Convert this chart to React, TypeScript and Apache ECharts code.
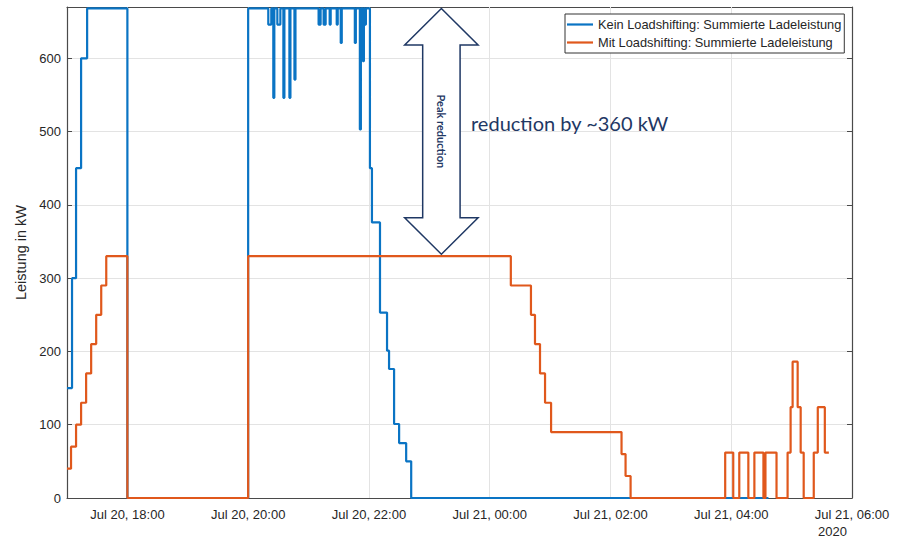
import React, { useEffect, useRef } from 'react';
import * as echarts from 'echarts';

// ---- data ----
const seriesNames = [
  'Kein Loadshifting: Summierte Ladeleistung',
  'Mit Loadshifting: Summierte Ladeleistung',
];

const blueTime = [
  '2020-07-20 17:00', '2020-07-20 17:05', '2020-07-20 17:09', '2020-07-20 17:14', '2020-07-20 17:20',
  '2020-07-20 18:00', '2020-07-20 20:00',
  '2020-07-20 20:20', '2020-07-20 20:23', '2020-07-20 20:25', '2020-07-20 20:26',
  '2020-07-20 20:29', '2020-07-20 20:32', '2020-07-20 20:35', '2020-07-20 20:36',
  '2020-07-20 20:41', '2020-07-20 20:42', '2020-07-20 20:46', '2020-07-20 20:47',
  '2020-07-20 21:10', '2020-07-20 21:12', '2020-07-20 21:15', '2020-07-20 21:17',
  '2020-07-20 21:21', '2020-07-20 21:22', '2020-07-20 21:28', '2020-07-20 21:29',
  '2020-07-20 21:32', '2020-07-20 21:33', '2020-07-20 21:46', '2020-07-20 21:47',
  '2020-07-20 21:51', '2020-07-20 21:52', '2020-07-20 21:54', '2020-07-20 21:55',
  '2020-07-20 21:56', '2020-07-20 21:57',
  '2020-07-20 22:01', '2020-07-20 22:03', '2020-07-20 22:11', '2020-07-20 22:18',
  '2020-07-20 22:20', '2020-07-20 22:25', '2020-07-20 22:30', '2020-07-20 22:37',
  '2020-07-20 22:42', '2020-07-21 04:37',
];
const blueKW = [
  150, 300, 450, 600, 668,
  0, 668,
  646, 668, 546, 668,
  646, 668, 546, 668,
  546, 668, 571, 668,
  646, 668, 646, 668,
  646, 668, 646, 668,
  621, 668, 621, 668,
  503, 668, 596, 668,
  646, 668,
  450, 376, 253, 201,
  176, 101, 75, 50,
  0, 0,
];

const orangeTime = [
  '2020-07-20 17:00', '2020-07-20 17:04', '2020-07-20 17:09', '2020-07-20 17:14', '2020-07-20 17:19',
  '2020-07-20 17:24', '2020-07-20 17:29', '2020-07-20 17:34', '2020-07-20 17:39', '2020-07-20 18:00',
  '2020-07-20 20:00', '2020-07-21 00:21', '2020-07-21 00:41', '2020-07-21 00:45', '2020-07-21 00:50',
  '2020-07-21 00:55', '2020-07-21 01:01', '2020-07-21 02:11', '2020-07-21 02:15', '2020-07-21 02:20',
  '2020-07-21 03:54', '2020-07-21 04:02', '2020-07-21 04:08', '2020-07-21 04:17',
  '2020-07-21 04:23', '2020-07-21 04:32', '2020-07-21 04:34', '2020-07-21 04:45',
  '2020-07-21 04:56', '2020-07-21 04:59', '2020-07-21 05:01', '2020-07-21 05:06',
  '2020-07-21 05:09', '2020-07-21 05:12', '2020-07-21 05:22', '2020-07-21 05:26',
  '2020-07-21 05:33', '2020-07-21 05:37',
];
const orangeKW = [
  40, 70, 100, 130, 170,
  210, 250, 290, 330, 0,
  330, 290, 250, 210, 170,
  130, 90, 60, 30, 0,
  62, 0, 62, 0,
  62, 0, 62, 0,
  62, 124, 186, 124,
  62, 0, 62, 124,
  62, 62,
];

const xTickTimes = [
  '2020-07-20 18:00', '2020-07-20 20:00', '2020-07-20 22:00', '2020-07-21 00:00',
  '2020-07-21 02:00', '2020-07-21 04:00', '2020-07-21 06:00',
];
const axisStart = '2020-07-20 17:00';
const axisEnd = '2020-07-21 06:00';
const yMax = 670;
const yInterval = 100;
const yearLabel = '2020';
const yAxisName = 'Leistung in kW';
const annotationTime = '2020-07-20 23:12';
const peakWithout = 668;
const peakWith = 330;
const arrowLabel = 'Peak reduction';
const reductionText = 'reduction by ~360 kW';
const monthNames = ['Jan', 'Feb', 'Mar', 'Apr', 'May', 'Jun', 'Jul', 'Aug', 'Sep', 'Oct', 'Nov', 'Dec'];

// ---- helpers ----
function parseT(s: string): number {
  const [d, t] = s.split(' ');
  const [y, m, dd] = d.split('-').map(Number);
  const [h, mi] = t.split(':').map(Number);
  return new Date(y, m - 1, dd, h, mi).getTime();
}
const pad = (n: number) => (n < 10 ? '0' + n : '' + n);
function fmtTick(v: number): string {
  const d = new Date(v);
  return `${monthNames[d.getMonth()]} ${d.getDate()}, ${pad(d.getHours())}:${pad(d.getMinutes())}`;
}

const FONT = '"Liberation Sans", Arial, sans-serif';
const AXIS_COLOR = '#4a4a4a';
const TEXT_COLOR = '#262626';
const GRID_COLOR = '#e3e3e3';
const NAVY = '#1f3864';
const BLUE = '#0a74c4';
const ORANGE = '#e0581c';

export default function App() {
  const ref = useRef<HTMLDivElement>(null);

  useEffect(() => {
    if (!ref.current) return;
    const chart = echarts.init(ref.current, undefined, { renderer: 'svg' });
    const tMin = parseT(axisStart);
    const tMax = parseT(axisEnd);
    const ticks = xTickTimes.map(parseT);

    const blueData = blueTime.map((t, i) => [parseT(t), blueKW[i]]);
    const orangeData = orangeTime.map((t, i) => [parseT(t), orangeKW[i]]);

    const baseX = {
      type: 'value',
      min: tMin,
      max: tMax,
      axisLine: { show: true, onZero: false, lineStyle: { color: AXIS_COLOR, width: 1.2 } },
      axisTick: { show: true, inside: true, length: 5, customValues: ticks, lineStyle: { color: AXIS_COLOR } },
      splitLine: { show: false },
    };
    const baseY = {
      type: 'value',
      min: 0,
      max: yMax,
      interval: yInterval,
      axisLine: { show: true, onZero: false, lineStyle: { color: AXIS_COLOR, width: 1.2 } },
      axisTick: { show: true, inside: true, length: 5, lineStyle: { color: AXIS_COLOR } },
    };

    chart.setOption({
      animation: false,
      backgroundColor: '#ffffff',
      grid: {
        left: 67,
        right: 56,
        top: 7,
        bottom: 40,
        containLabel: false,
        outerBoundsMode: 'none',
      },
      legend: {
        data: seriesNames,
        orient: 'vertical',
        left: 565,
        top: 14,
        icon: 'rect',
        itemWidth: 26,
        itemHeight: 2.2,
        itemGap: 3,
        padding: [3, 3, 3, 2],
        borderColor: '#333333',
        borderWidth: 1,
        backgroundColor: '#ffffff',
        textStyle: { fontSize: 12.8, color: TEXT_COLOR, fontFamily: FONT, lineHeight: 15 },
      },
      xAxis: [
        {
          ...baseX,
          position: 'bottom',
          axisLabel: {
            customValues: ticks,
            formatter: (v: number) => fmtTick(v),
            color: TEXT_COLOR,
            fontSize: 13,
            fontFamily: FONT,
            margin: 10,
            hideOverlap: false,
          },
        },
        {
          ...baseX,
          position: 'top',
          axisLabel: { show: false },
        },
      ],
      yAxis: [
        {
          ...baseY,
          position: 'left',
          name: yAxisName,
          nameLocation: 'middle',
          nameGap: 25,
          nameTextStyle: { fontSize: 14.5, color: TEXT_COLOR, fontFamily: FONT },
          axisLabel: {
            color: TEXT_COLOR,
            fontSize: 13,
            fontFamily: FONT,
            margin: 6,
            showMaxLabel: false,
          },
          splitLine: { show: true, lineStyle: { color: GRID_COLOR, width: 1 } },
        },
        {
          ...baseY,
          position: 'right',
          axisLabel: { show: false },
          splitLine: { show: false },
        },
      ],
      series: [
        {
          name: 'xgrid',
          type: 'line',
          data: [],
          xAxisIndex: 0,
          yAxisIndex: 0,
          z: 1,
          silent: true,
          markLine: {
            z: 1,
            silent: true,
            symbol: ['none', 'none'],
            label: { show: false },
            lineStyle: { color: GRID_COLOR, width: 1, type: 'solid' },
            emphasis: { disabled: true },
            data: ticks.slice(0, -1).map((t) => ({ xAxis: t })),
          },
        },
        {
          name: seriesNames[0],
          type: 'line',
          step: 'end',
          symbol: 'none',
          data: blueData,
          xAxisIndex: 0,
          yAxisIndex: 0,
          lineStyle: { color: BLUE, width: 2.2 },
          itemStyle: { color: BLUE },
          z: 8,
        },
        {
          name: seriesNames[1],
          type: 'line',
          step: 'end',
          symbol: 'none',
          data: orangeData,
          xAxisIndex: 0,
          yAxisIndex: 0,
          lineStyle: { color: ORANGE, width: 2.2 },
          itemStyle: { color: ORANGE },
          z: 9,
        },
      ],
    });

    // annotations anchored to data coordinates
    const ta = parseT(annotationTime);
    const pTop = chart.convertToPixel({ gridIndex: 0 }, [ta, peakWithout]) as number[];
    const pBot = chart.convertToPixel({ gridIndex: 0 }, [ta, peakWith]) as number[];
    const lastTick = chart.convertToPixel({ gridIndex: 0 }, [tMax, 0]) as number[];
    const cx = pTop[0];
    const top = pTop[1];
    const bot = pBot[1] - 2;
    const hw = 36.7;
    const sw = 18.7;
    const hl = 36.5;
    const pts = [
      [cx, top], [cx + hw, top + hl], [cx + sw, top + hl], [cx + sw, bot - hl], [cx + hw, bot - hl],
      [cx, bot], [cx - hw, bot - hl], [cx - sw, bot - hl], [cx - sw, top + hl], [cx - hw, top + hl],
    ];

    chart.setOption({
      graphic: [
        {
          type: 'polygon',
          z: 50,
          shape: { points: pts },
          style: { fill: '#ffffff', stroke: NAVY, lineWidth: 1.5 },
        },
        {
          type: 'text',
          z: 51,
          x: cx,
          y: (top + bot) / 2,
          rotation: -Math.PI / 2,
          style: {
            text: arrowLabel,
            x: 0,
            y: 0,
            fill: NAVY,
            font: 'bold 11px Lato, "Noto Sans", sans-serif',
            align: 'center',
            verticalAlign: 'middle',
            textAlign: 'center',
            textVerticalAlign: 'middle',
          },
        },
        {
          type: 'text',
          z: 51,
          x: 471,
          y: 123,
          style: {
            text: reductionText,
            x: 0,
            y: 0,
            fill: NAVY,
            font: '20px Lato, "Noto Sans", sans-serif',
            align: 'left',
            verticalAlign: 'middle',
            textAlign: 'left',
            textVerticalAlign: 'middle',
          },
        },
        {
          type: 'text',
          z: 51,
          x: lastTick[0] - 34,
          y: 531,
          style: {
            text: yearLabel,
            x: 0,
            y: 0,
            fill: TEXT_COLOR,
            font: '13px "Liberation Sans", Arial, sans-serif',
            align: 'left',
            verticalAlign: 'middle',
            textAlign: 'left',
            textVerticalAlign: 'middle',
          },
        },
      ],
    });

    return () => chart.dispose();
  }, []);

  return (
    <div
      ref={ref}
      style={{ position: 'fixed', left: 0, top: 0, width: 908, height: 538, background: '#fff' }}
    />
  );
}
